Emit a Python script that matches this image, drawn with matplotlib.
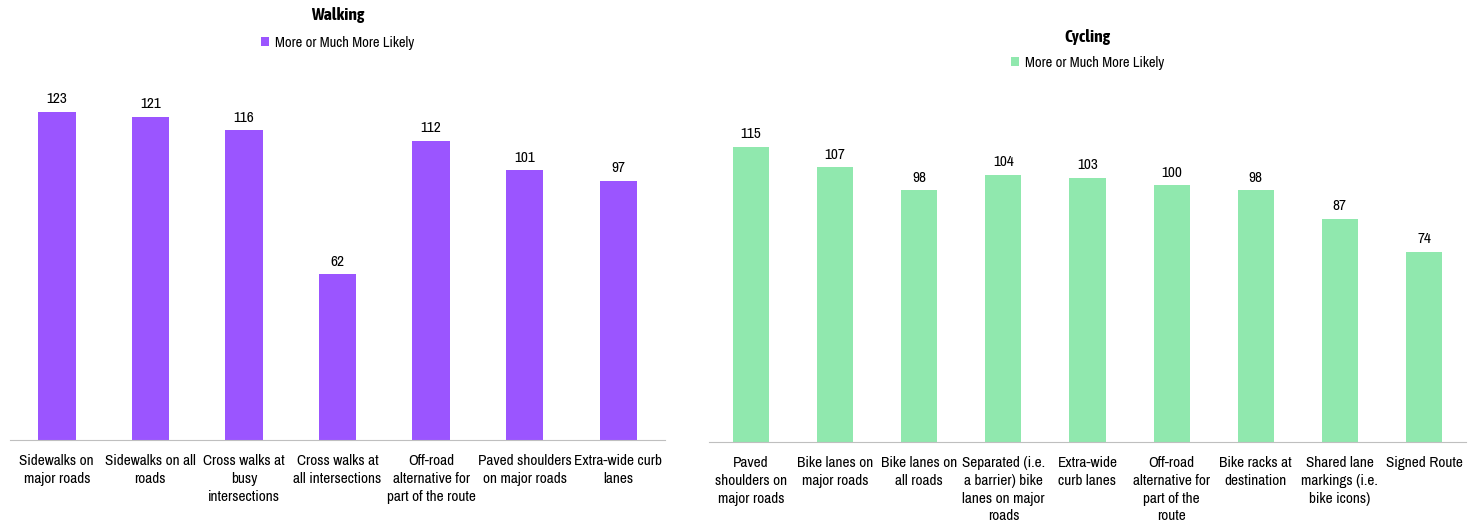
import matplotlib.pyplot as plt

walk_labels = ["Sidewalks on\nmajor roads", "Sidewalks on all\nroads", "Cross walks at\nbusy\nintersections",
               "Cross walks at\nall intersections", "Off-road\nalternative for\npart of the route",
               "Paved shoulders\non major roads", "Extra-wide curb\nlanes"]
walk_values = [123, 121, 116, 62, 112, 101, 97]

cycle_labels = ["Paved\nshoulders on\nmajor roads", "Bike lanes on\nmajor roads", "Bike lanes on\nall roads",
                "Separated (i.e.\na barrier) bike\nlanes on major\nroads", "Extra-wide\ncurb lanes",
                "Off-road\nalternative for\npart of the\nroute", "Bike racks at\ndestination",
                "Shared lane\nmarkings (i.e.\nbike icons)", "Signed Route"]
cycle_values = [115, 107, 98, 104, 103, 100, 98, 87, 74]

plt.rcParams['font.family'] = ['Archivo Narrow', 'DejaVu Sans']

W, H = 1473, 521
fig = plt.figure(figsize=(W / 100, H / 100), dpi=100)


def panel(rect, labels, values, color, title, title_y, leg_y, ymax, width):
    ax = fig.add_axes(rect)
    x = range(len(values))
    bars = ax.bar(x, values, width=width, color=color, label="More or Much More Likely")
    ax.bar_label(bars, padding=4, fontsize=11)
    ax.set_xlim(-0.5, len(values) - 0.5)
    ax.set_ylim(0, ymax)
    ax.set_xticks(list(x))
    ax.set_xticklabels(labels, fontsize=11, linespacing=1.35)
    ax.tick_params(axis='x', length=0, pad=10)
    ax.set_yticks([])
    for s in ['top', 'right', 'left']:
        ax.spines[s].set_visible(False)
    ax.spines['bottom'].set_color('#BFBFBF')
    cx = rect[0] + rect[2] / 2
    fig.text(cx, title_y, title, ha='center', va='center', fontsize=12.5, fontweight='bold',
             family=['Asap Condensed', 'DejaVu Sans'])
    ax.legend(loc='center', bbox_to_anchor=(cx, leg_y), bbox_transform=fig.transFigure,
              frameon=False, fontsize=10.5, handlelength=0.6, handleheight=0.6, handletextpad=0.4)
    return ax


panel([10 / W, (H - 440) / H, 655 / W, 380 / H], walk_labels, walk_values, '#9B55FF',
      "Walking", 1 - 15 / H, 1 - 43 / H, 380 / 2.67, 0.4)
panel([709 / W, (H - 442) / H, 757 / W, 362 / H], cycle_labels, cycle_values, '#90E8AE',
      "Cycling", 1 - 37 / H, 1 - 63 / H, 362 / 2.567, 0.43)

fig.savefig("out.png", dpi=100)
